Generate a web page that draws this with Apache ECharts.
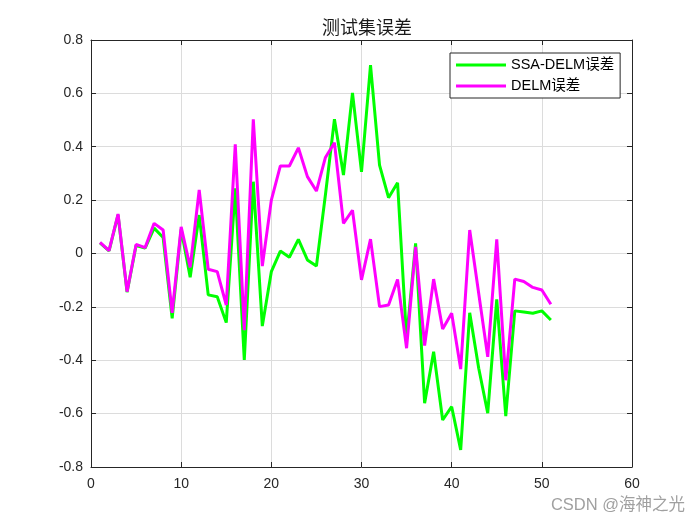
<!DOCTYPE html>
<html>
<head>
<meta charset="utf-8">
<script src="https://cdn.jsdelivr.net/npm/echarts@6/dist/echarts.min.js"></script>
<style>
html,body{margin:0;padding:0;background:#fff;}
#main{width:700px;height:525px;}
</style>
</head>
<body>
<div id="main"></div>
<script>
var xIndex = [1,2,3,4,5,6,7,8,9,10,11,12,13,14,15,16,17,18,19,20,21,22,23,24,25,26,27,28,29,30,31,32,33,34,35,36,37,38,39,40,41,42,43,44,45,46,47,48,49,50,51];
var ssaDelmErr = [0.04,0.01,0.145,-0.145,0.03,0.02,0.095,0.06,-0.243,0.09,
  -0.089,0.144,-0.155,-0.162,-0.259,0.244,-0.399,0.269,-0.272,-0.068,
  0.009,-0.014,0.053,-0.024,-0.047,0.22,0.503,0.294,0.602,0.306,
  0.706,0.331,0.209,0.265,-0.32,0.038,-0.561,-0.368,-0.624,-0.574,
  -0.736,-0.222,-0.43,-0.598,-0.172,-0.609,-0.215,-0.219,-0.224,-0.215,-0.249];
var delmErr = [0.042,0.011,0.148,-0.143,0.034,0.022,0.113,0.088,-0.222,0.1,
  -0.052,0.238,-0.059,-0.068,-0.193,0.409,-0.287,0.503,-0.047,0.2,
  0.328,0.328,0.396,0.288,0.234,0.36,0.415,0.113,0.162,-0.099,
  0.054,-0.199,-0.193,-0.097,-0.355,0.025,-0.345,-0.096,-0.283,-0.224,
  -0.433,0.088,-0.15,-0.387,0.053,-0.475,-0.096,-0.105,-0.127,-0.137,-0.19];
var seriesNames = ['SSA-DELM误差','DELM误差'];
var titleText = '测试集误差';
var watermark = 'CSDN @海神之光';

function pairs(xs, ys){ return xs.map(function(x,i){ return [x, ys[i]]; }); }

var chart = echarts.init(document.getElementById('main'));
var axisColor = '#262626';
var font = 'Liberation Sans, Arial, sans-serif';
function baseAxis(extra){
  var a = {
    type:'value',
    axisLine:{show:true,onZero:false,lineStyle:{color:axisColor,width:1}},
    axisTick:{show:true,inside:true,length:5,lineStyle:{color:axisColor}},
    axisLabel:{color:axisColor,fontSize:14,fontFamily:font},
    splitLine:{show:false}
  };
  for (var k in extra) a[k]=extra[k];
  return a;
}
chart.setOption({
  animation:false,
  backgroundColor:'#fff',
  title:{text:titleText,left:362,textAlign:'center',top:13,
    textStyle:{fontSize:18,fontWeight:'normal',color:'#1a1a1a',fontFamily:'Noto Sans CJK SC'}},
  grid:{left:91,right:68,top:40,bottom:58,show:false},
  legend:{
    orient:'vertical',left:450,top:53,
    backgroundColor:'#fff',borderColor:axisColor,borderWidth:1,borderRadius:0,
    padding:[4,6,4,6],itemWidth:50,itemHeight:3,itemGap:5,icon:'rect',
    textStyle:{fontSize:14.5,color:'#000',lineHeight:16,fontFamily:'Liberation Sans, Noto Sans CJK SC, sans-serif'},
    data:seriesNames
  },
  xAxis:[
    baseAxis({min:0,max:60,interval:10,position:'bottom',
      axisLabel:{color:axisColor,fontSize:14,fontFamily:font,margin:10},
      splitLine:{show:true,lineStyle:{color:'#dcdcdc',width:1}}}),
    baseAxis({min:0,max:60,interval:10,position:'top',axisLabel:{show:false}})
  ],
  yAxis:[
    baseAxis({min:-0.8,max:0.8,interval:0.2,position:'left',
      axisLabel:{color:axisColor,fontSize:14,fontFamily:font,margin:8,
        formatter:function(v){ var r=Math.round(v*10)/10; return r===0?'0':r.toFixed(1);} },
      splitLine:{show:true,lineStyle:{color:'#dcdcdc',width:1}}}),
    baseAxis({min:-0.8,max:0.8,interval:0.2,position:'right',axisLabel:{show:false}})
  ],
  series:[
    {name:seriesNames[0],type:'line',data:pairs(xIndex,ssaDelmErr),symbol:'none',
      lineStyle:{color:'#00ff00',width:3},itemStyle:{color:'#00ff00'}},
    {name:seriesNames[1],type:'line',data:pairs(xIndex,delmErr),symbol:'none',
      lineStyle:{color:'#ff00ff',width:3},itemStyle:{color:'#ff00ff'}}
  ],
  graphic:[
    {type:'text',right:15,top:497,style:{text:watermark,fill:'#a0a0a0',fontSize:16.5,
      fontFamily:'Liberation Sans, Noto Sans CJK SC, sans-serif'}}
  ]
});
</script>
</body>
</html>
